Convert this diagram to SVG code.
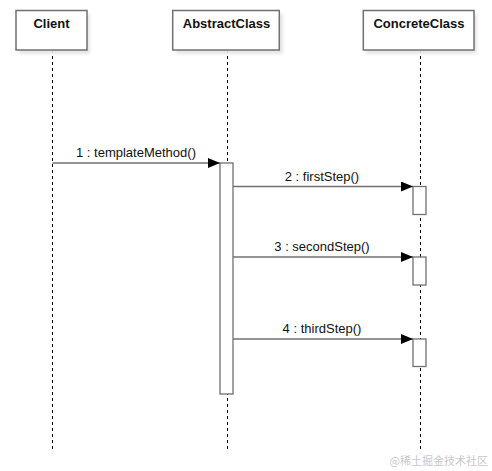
<svg xmlns="http://www.w3.org/2000/svg" width="492" height="471" viewBox="0 0 492 471">
<defs>
<filter id="sh" x="-20%" y="-20%" width="150%" height="150%"><feGaussianBlur stdDeviation="1.5"/></filter>
<marker id="ah" markerWidth="12" markerHeight="10" refX="12" refY="5" orient="auto" markerUnits="userSpaceOnUse"><path d="M0,0 L12,5 L0,10 Z" fill="#000"/></marker>
</defs>
<style>
.box{fill:#fff;stroke:#707070;stroke-width:1.5}
.shadow{fill:#e6e6e6;filter:url(#sh)}
.title{font-family:"Liberation Sans",Arial,sans-serif;font-size:13px;font-weight:bold;fill:#111;text-anchor:middle}
.life{stroke:#000;stroke-width:1;stroke-dasharray:3,3;fill:none}
.act{fill:#fff;stroke:#707070;stroke-width:1.3}
.msg{stroke:#707070;stroke-width:1.3;fill:none;marker-end:url(#ah)}
.lbl{font-family:"Liberation Sans",Arial,sans-serif;font-size:13px;fill:#111;text-anchor:middle}
.wm{font-family:"Noto Sans CJK SC",sans-serif;font-size:11px;fill:#c8c8c8;text-anchor:end}
</style>
<rect width="492" height="471" fill="#fff"/>
<g id="lifelines">
<line class="life" x1="52.5" y1="50" x2="52.5" y2="450"/>
<line class="life" x1="227.5" y1="50" x2="227.5" y2="450"/>
<line class="life" x1="420.5" y1="50" x2="420.5" y2="450"/>
</g>
<g id="client">
<rect class="shadow" x="19" y="14" width="71" height="40"/>
<rect class="box" x="16" y="10.5" width="71" height="39.5"/>
<text class="title" x="51.5" y="28">Client</text>
</g>
<g id="abstractclass">
<rect class="shadow" x="176" y="14" width="107" height="40"/>
<rect class="box" x="172.7" y="10.5" width="106.6" height="39.5"/>
<text class="title" x="226.5" y="28">AbstractClass</text>
</g>
<g id="concreteclass">
<rect class="shadow" x="366" y="14" width="111" height="40"/>
<rect class="box" x="363.3" y="10.5" width="110.7" height="39.5"/>
<text class="title" x="419" y="28">ConcreteClass</text>
</g>
<g id="activations">
<rect class="act" x="220" y="163" width="13" height="231"/>
<rect class="act" x="413" y="186.5" width="13" height="28"/>
<rect class="act" x="413" y="257" width="13" height="28"/>
<rect class="act" x="413" y="339" width="13" height="27.5"/>
</g>
<g id="connectors">
<line class="msg" x1="52.5" y1="163" x2="220" y2="163"/>
<line class="msg" x1="233" y1="186.5" x2="413" y2="186.5"/>
<line class="msg" x1="233" y1="257" x2="413" y2="257"/>
<line class="msg" x1="233" y1="339" x2="413" y2="339"/>
<text class="lbl" x="136" y="157">1 : templateMethod()</text>
<text class="lbl" x="322" y="181">2 : firstStep()</text>
<text class="lbl" x="322" y="251">3 : secondStep()</text>
<text class="lbl" x="322" y="333">4 : thirdStep()</text>
</g>
<text class="wm" x="488" y="465">@稀土掘金技术社区</text>
</svg>
